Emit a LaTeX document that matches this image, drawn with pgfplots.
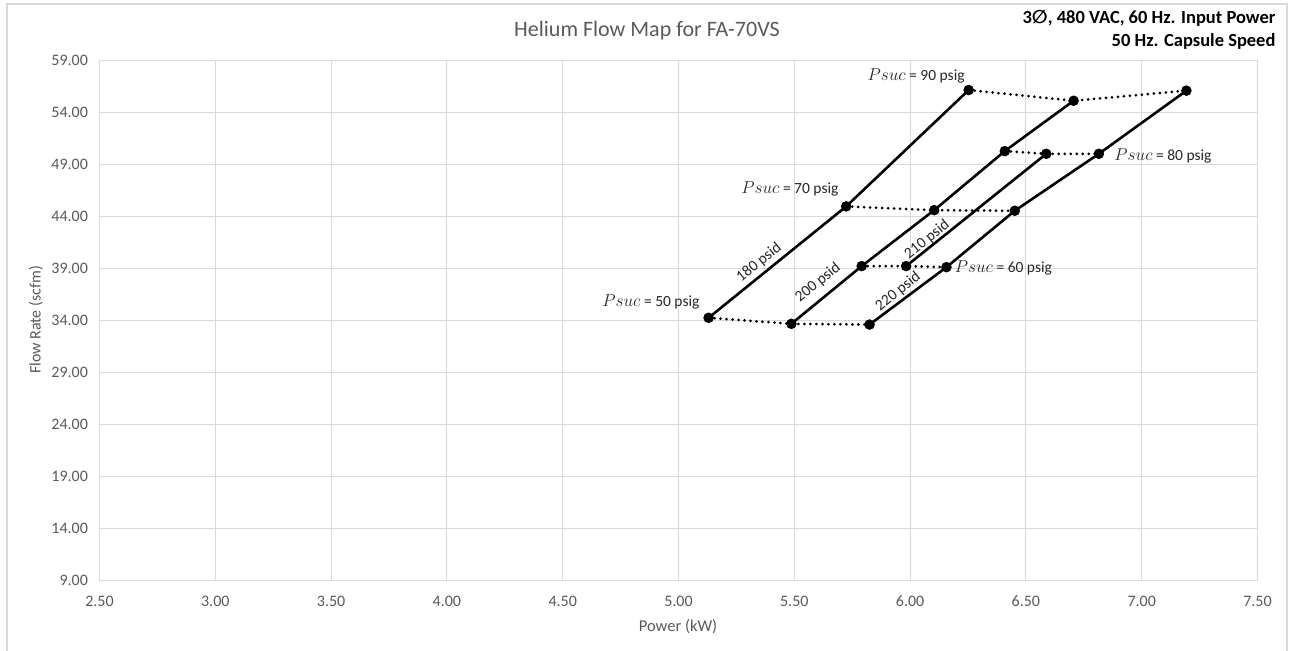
\documentclass[border=0pt]{standalone}
\usepackage{pgfplots}
\pgfplotsset{compat=1.18}
\usepackage{fontspec}
\setmainfont{Carlito}
\newfontfamily\dejavu{DejaVu Sans}
\definecolor{gridc}{HTML}{D9D9D9}
\definecolor{tickc}{HTML}{595959}
\newcommand{\psuc}{{\fontsize{17.5}{18}\selectfont$Psuc$}}
\begin{document}
\begin{tikzpicture}[x=1pt,y=1pt]
\useasboundingbox (0,0) rectangle (1294,651);
\draw[gridc, line width=1.2pt] (7,-10) -- (7,647) -- (1287,647) -- (1287,-10);
\node[font=\fontsize{22}{26}\selectfont, text=tickc] at (647,620) {Helium Flow Map for FA-70VS};
\node[font=\fontsize{18.5}{22}\selectfont\bfseries, anchor=east] at (1279,633) {3{\dejavu\bfseries ∅}, 480 VAC, 60 Hz. Input Power};
\node[font=\fontsize{18.5}{22}\selectfont\bfseries, anchor=east] at (1279,610) {50 Hz. Capsule Speed};
\node[font=\fontsize{16}{19}\selectfont, text=tickc, rotate=90] at (36,331) {Flow Rate (scfm)};
\node[font=\fontsize{16.5}{19}\selectfont, text=tickc] at (678,24) {Power (kW)};
\begin{axis}[at={(99.5pt,70.5pt)}, anchor=south west, width=1158pt, height=520pt, scale only axis,
  xmin=2.5, xmax=7.5, ymin=9, ymax=59,
  xtick={2.5,3,3.5,4,4.5,5,5.5,6,6.5,7,7.5},
  ytick={9,14,19,24,29,34,39,44,49,54,59},
  grid=major, grid style={gridc, line width=1pt},
  axis line style={gridc, line width=1pt}, tick style={draw=none},
  ticklabel style={font=\fontsize{16}{19}\selectfont, text=tickc},
  xticklabel style={yshift=-12pt}, yticklabel style={xshift=-8pt},
  /pgf/number format/.cd, fixed, fixed zerofill, precision=2, assume math mode=true, /pgfplots/.cd,
  clip=false,
  solid/.style={black, line width=2.6pt, mark=*, mark size=3.6pt, mark options={solid}},
  dots/.style={black, line width=3pt, line cap=round, dash pattern=on 0pt off 6pt, mark=*, mark size=3.6pt, mark options={solid}},
]
% constant-suction dotted lines
\addplot[dots] coordinates {(5.13,34.26) (5.4875,33.68) (5.825,33.61)};
\addplot[dots] coordinates {(5.791,39.23) (5.983,39.23) (6.157,39.13)};
\addplot[dots] coordinates {(5.724,44.97) (6.104,44.61) (6.452,44.55)};
\addplot[dots] coordinates {(6.409,50.29) (6.588,50.03) (6.815,50.03)};
\addplot[dots] coordinates {(6.253,56.16) (6.706,55.13) (7.193,56.10)};
% constant-differential solid lines
\addplot[solid] coordinates {(5.13,34.26) (5.724,44.97) (6.253,56.16)};
\addplot[solid] coordinates {(5.4875,33.68) (5.791,39.23) (6.104,44.61) (6.409,50.29) (6.706,55.13)};
\addplot[solid] coordinates {(5.983,39.23) (6.588,50.03)};
\addplot[solid] coordinates {(5.825,33.61) (6.157,39.13) (6.452,44.55) (6.815,50.03) (7.193,56.10)};
% labels
\begin{scope}[every node/.style={font=\fontsize{15.5}{18}\selectfont, text=black!85}]
\node at (axis cs:6.026,57.48) {\psuc{} = 90 psig};
\node at (axis cs:7.092,49.84) {\psuc{} = 80 psig};
\node at (axis cs:5.481,46.62) {\psuc{} = 70 psig};
\node at (axis cs:6.403,39.07) {\psuc{} = 60 psig};
\node at (axis cs:4.881,35.80) {\psuc{} = 50 psig};
\node[rotate=39] at (axis cs:5.348,39.55) {180 psid};
\node[rotate=39] at (axis cs:5.602,37.62) {200 psid};
\node[rotate=39] at (axis cs:6.073,41.76) {210 psid};
\node[rotate=39] at (axis cs:5.948,36.76) {220 psid};
\end{scope}
\end{axis}
\end{tikzpicture}
\end{document}
